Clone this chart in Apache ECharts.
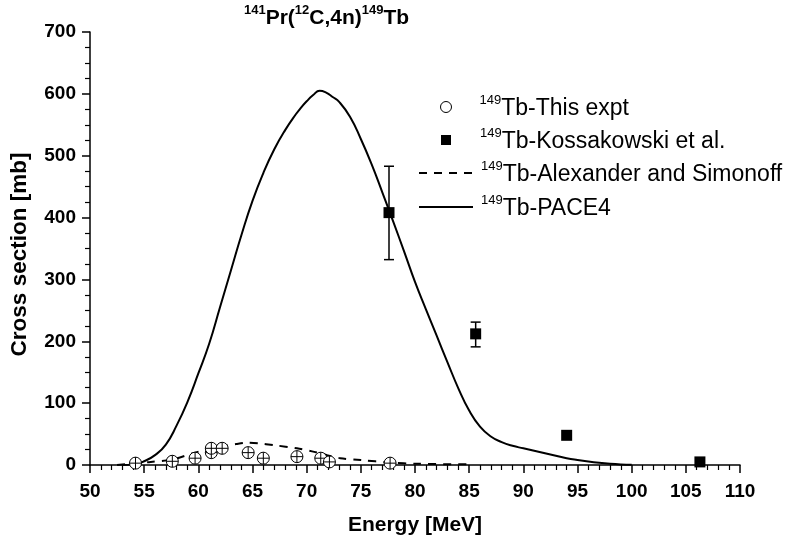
<!DOCTYPE html>
<html>
<head>
<meta charset="utf-8">
<script src="https://cdn.jsdelivr.net/npm/echarts@6/dist/echarts.min.js"></script>
<style>html,body{margin:0;padding:0;background:#fff;}#c{width:790px;height:544px;}</style>
</head>
<body>
<div id="c"></div>
<script>
// ---- data ----
var xTicks = [50, 110, 5];        // min, max, step (MeV)
var yTicks = [0, 700, 100];       // min, max, step (mb)
var exptData = [[54.2,3],[57.6,6],[59.7,11],[61.2,20],[61.2,27],[62.2,27],[64.6,20],[66.0,11],[69.1,13.5],[71.3,11],[72.1,5],[77.7,3]];
var kossData = [[77.6,408],[85.6,212],[94.0,48],[106.3,5]];
var kossErr = [[77.6,332,483],[85.6,191,231]];
var alexData = [[52.5,0],[54.2,3],[55.6,5],[57.6,9],[59.7,20],[61,26],[62.2,30],[63.5,34],[64.4,36],[65.5,35],[67,32],[69.1,27],[70.5,22],[71.9,16],[73.1,11],[75,8],[77.7,4],[80.2,2],[85,1]];
var paceData = [[53,0],[54,1],[55,6],[56,16],[57,33],[58,64],[59,102],[60,148],[61,196],[62,255],[63,314],[64,373],[65,427],[66,472],[67,510],[68,541],[69,567],[69.5,578],[70,588],[70.6,598],[71.2,605],[71.8,602],[72.4,595],[73,587],[74,563],[75,527],[76,486],[77,440],[78,393],[79,345],[80,296],[81,252],[82,209],[83,166],[84,124],[85,88],[86,62],[87,46],[88,37],[89,31],[90,27],[91,23],[92,19],[93,15],[94,11],[95,8],[96,5.5],[97,3.5],[98,2],[99,1],[100,0.5]];
var names = ['Tb-This expt', 'Tb-Kossakowski et al.', 'Tb-Alexander and Simonoff', 'Tb-PACE4'];
var isoSup = '149';

var FONT = 'Liberation Sans, Arial, sans-serif';
var chart = echarts.init(document.getElementById('c'), null, {renderer: 'canvas'});

function legendCfg(name, top, left, iw, ih, padL, extra) {
  var base = {
    data: [name], left: left, top: top, orient: 'vertical',
    itemWidth: iw, itemHeight: ih, padding: 0,
    selectedMode: false,
    formatter: function (n) { return '{s|' + isoSup + '}{t|' + n + '}'; },
    textStyle: {
      color: '#000', fontFamily: FONT,
      rich: {
        s: {fontSize: 13, fontFamily: FONT, color: '#000', verticalAlign: 'top', padding: [0, 0, 0, padL], lineHeight: 26},
        t: {fontSize: 23, fontFamily: FONT, color: '#000', verticalAlign: 'bottom', lineHeight: 26}
      }
    }
  };
  for (var k in extra) base[k] = extra[k];
  return base;
}

var hideSym = {itemStyle: {color: 'rgba(0,0,0,0)', borderWidth: 0, opacity: 0}};

var option = {
  backgroundColor: '#fff',
  animation: false,
  title: {
    text: '{s|141}{m|Pr(}{s|12}{m|C,4n)}{s|149}{m|Tb}',
    left: 244, top: 4, padding: 0,
    textStyle: {
      fontFamily: FONT,
      rich: {
        s: {fontSize: 13, fontWeight: 'bold', color: '#000', fontFamily: FONT, verticalAlign: 'top', lineHeight: 25},
        m: {fontSize: 21, fontWeight: 'bold', color: '#000', fontFamily: FONT, verticalAlign: 'bottom', lineHeight: 25}
      }
    }
  },
  legend: [
    legendCfg(names[0], 94, 440, 11, 11, 23, {data: [{name: names[0], icon: 'circle', itemStyle: {color: '#fff', borderColor: '#000', borderWidth: 1}}]}),
    legendCfg(names[1], 127, 441, 10, 10, 24, {data: [{name: names[1], icon: 'path://M0,0L10,0L10,10L0,10Z', itemStyle: {color: '#000', opacity: 1}}]}),
    legendCfg(names[2], 160, 418, 54, 14, 3, hideSym),
    legendCfg(names[3], 194, 418, 54, 14, 3, hideSym)
  ],
  grid: {left: 89, right: 50, top: 32, bottom: 79, containLabel: false},
  xAxis: {
    type: 'value', min: xTicks[0], max: xTicks[1], interval: xTicks[2],
    name: 'Energy [MeV]', nameLocation: 'middle', nameGap: 50,
    nameTextStyle: {fontSize: 21, fontWeight: 'bold', color: '#000', fontFamily: FONT},
    axisLine: {show: true, onZero: false, lineStyle: {color: '#000', width: 1.5}},
    axisTick: {show: true, length: 8, lineStyle: {color: '#000', width: 1.5}},
    minorTick: {show: true, splitNumber: 5, length: 5, lineStyle: {color: '#000', width: 1.2}},
    axisLabel: {fontSize: 19, fontWeight: 'bold', color: '#000', fontFamily: FONT, margin: 17},
    splitLine: {show: false}
  },
  yAxis: {
    type: 'value', min: yTicks[0], max: yTicks[1], interval: yTicks[2],
    name: 'Cross section [mb]', nameLocation: 'middle', nameGap: 59,
    nameTextStyle: {fontSize: 22.5, fontWeight: 'bold', color: '#000', fontFamily: FONT, padding: [0, 12, 0, 0]},
    axisLine: {show: true, onZero: false, lineStyle: {color: '#000', width: 1.5}},
    axisTick: {show: true, length: 8, lineStyle: {color: '#000', width: 1.5}},
    minorTick: {show: true, splitNumber: 4, length: 5, lineStyle: {color: '#000', width: 1.2}},
    axisLabel: {fontSize: 19, fontWeight: 'bold', color: '#000', fontFamily: FONT, margin: 14},
    splitLine: {show: false}
  },
  series: [
    {
      name: names[3], type: 'line', data: paceData, showSymbol: false, symbol: 'none',
      smooth: 0.5, itemStyle: {color: '#000'}, lineStyle: {color: '#000', width: 2}, z: 2
    },
    {
      name: names[2], type: 'line', data: alexData, showSymbol: false, symbol: 'none',
      smooth: 0.3, itemStyle: {color: '#000'}, lineStyle: {color: '#000', width: 2, type: [8, 7]}, z: 2
    },
    {
      name: 'kossErr', type: 'custom', data: kossErr, z: 3,
      renderItem: function (params, api) {
        var x = api.value(0), lo = api.value(1), hi = api.value(2);
        var pLo = api.coord([x, lo]), pHi = api.coord([x, hi]);
        var cw = 5;
        var st = {stroke: '#000', lineWidth: 1.5};
        return {type: 'group', children: [
          {type: 'line', shape: {x1: pLo[0], y1: pLo[1], x2: pHi[0], y2: pHi[1]}, style: st},
          {type: 'line', shape: {x1: pLo[0] - cw, y1: pLo[1], x2: pLo[0] + cw, y2: pLo[1]}, style: st},
          {type: 'line', shape: {x1: pHi[0] - cw, y1: pHi[1], x2: pHi[0] + cw, y2: pHi[1]}, style: st}
        ]};
      }
    },
    {
      name: names[1], type: 'scatter', data: kossData, symbol: 'rect', symbolSize: 11,
      itemStyle: {color: '#000', opacity: 1}, z: 4
    },
    {
      name: names[0], type: 'scatter', data: exptData,
      symbol: 'path://M0,10A10,10,0,1,1,20,10A10,10,0,1,1,0,10ZM10,0L10,20M0,10L20,10',
      symbolSize: 12,
      itemStyle: {color: '#fff', borderColor: '#000', borderWidth: 1, opacity: 1}, z: 5
    }
  ]
};
chart.setOption(option);
</script>
</body>
</html>
